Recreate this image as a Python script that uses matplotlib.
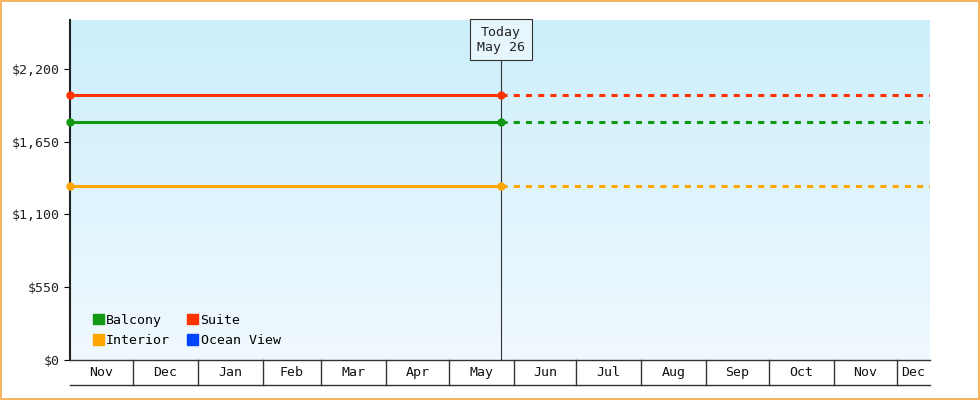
import matplotlib
matplotlib.use("Agg")
import matplotlib.pyplot as plt
import matplotlib.dates as mdates
import numpy as np
from datetime import date
from matplotlib.colors import LinearSegmentedColormap
from matplotlib.patches import Patch

series_names = ["Balcony", "Suite", "Interior", "Ocean View"]
series_colors = ["#119911", "#ff3300", "#ffa500", "#0044ff"]
series_values = [1800, 2000, 1315, None]
start = date(2024, 11, 1)
today = date(2025, 5, 26)
end = date(2025, 12, 17)
yticks = [0, 550, 1100, 1650, 2200]
ytick_labels = ["$0", "$550", "$1,100", "$1,650", "$2,200"]
ymax = 2570

plt.rcParams['font.family'] = ['DejaVu Sans Mono']
fig = plt.figure(figsize=(9.8, 4.0), dpi=100)
fig.patches.append(plt.Rectangle((0.001, 0.002), 0.998, 0.996, transform=fig.transFigure,
                                 fill=False, edgecolor="#f5a742", lw=1.2))
ax = fig.add_axes([70/980, 40/400, 860/980, 340/400])
xs, xe = mdates.date2num(start), mdates.date2num(end)
xt = mdates.date2num(today)
grad = np.linspace(0, 1, 256).reshape(-1, 1)
cm = LinearSegmentedColormap.from_list("g", ["#f0f9fe", "#cceffc"])
ax.imshow(grad, extent=[xs, xe, 0, ymax], origin="lower", aspect="auto", cmap=cm, zorder=0)
ax.set_xlim(xs, xe); ax.set_ylim(0, ymax)

for n, c, v in zip(series_names, series_colors, series_values):
    if v is None:
        continue
    ax.plot([xs, xt], [v, v], color=c, lw=2.2, zorder=3)
    ax.plot([xt, xe], [v, v], color=c, lw=2.2, ls=(0, (2, 2)), zorder=3)
    ax.plot([xs, xt], [v, v], 'o', color=c, ms=5, zorder=4, clip_on=False)

ax.axvline(xt, color="#333333", lw=0.8, zorder=2)
ax.text(xt, 2420, "Today\nMay 26", ha="center", va="center", fontsize=9.5, color="#222222",
        bbox=dict(boxstyle="square,pad=0.5", fc="#e6f6fc", ec="#333333", lw=0.8), zorder=5)

for s in ["top", "right"]:
    ax.spines[s].set_visible(False)
ax.spines["left"].set_linewidth(1.5)
ax.spines["left"].set_color("#222222")
ax.spines["bottom"].set_linewidth(1.0)
ax.spines["bottom"].set_color("#333333")
ax.set_yticks(yticks, ytick_labels, fontsize=9.5, color="#222222")
ax.tick_params(axis="y", length=4)
ax.set_xticks([])

months = []
y, m = 2024, 11
while True:
    months.append(date(y, m, 1))
    m += 1
    if m > 12:
        m = 1; y += 1
    if date(y, m, 1) > end:
        break
bounds = [mdates.date2num(d) for d in months[1:]]
trans = ax.get_xaxis_transform()
for b in bounds:
    ax.plot([b, b], [0, -0.074], transform=trans, color="#333333", lw=1, clip_on=False)
ax.plot([xs, xe], [-0.074, -0.074], transform=trans, color="#333333", lw=1, clip_on=False)
edges = [xs] + bounds + [xe]
for i, d in enumerate(months):
    ax.text((edges[i] + edges[i+1]) / 2, -0.037, d.strftime("%b"), transform=trans,
            ha="center", va="center", fontsize=9.5, color="#111111")

handles = [Patch(color=c, label=n) for n, c in zip(series_names, series_colors)]
order = [0, 2, 1, 3]
ax.legend([handles[i] for i in order], [series_names[i] for i in order], ncol=2,
          loc="lower left", bbox_to_anchor=(0.013, 0.003), frameon=False, fontsize=9.5,
          handlelength=0.8, handleheight=0.8, handletextpad=0.2, columnspacing=1.3, labelspacing=0.55)
fig.savefig("out.png", dpi=100)
